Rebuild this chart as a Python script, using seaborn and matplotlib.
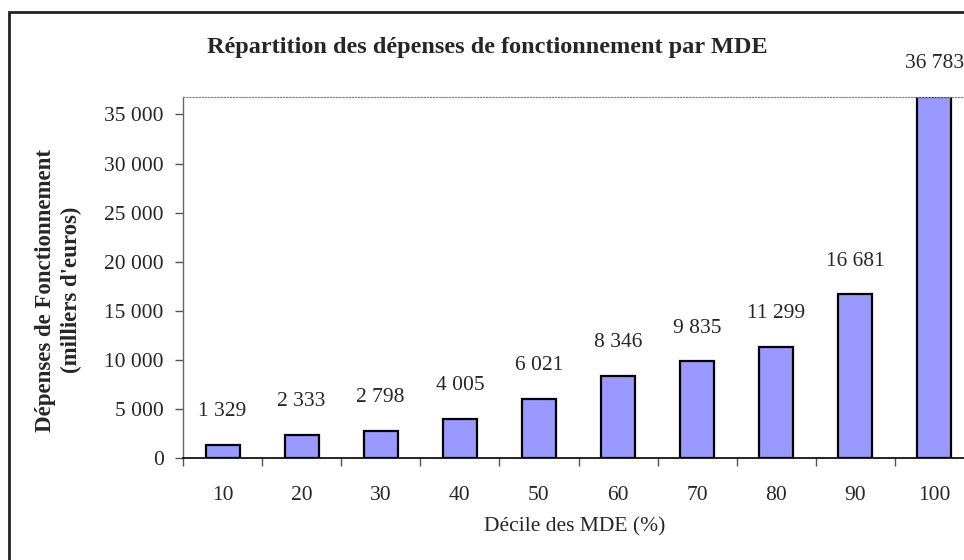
import matplotlib
matplotlib.use("Agg")
import matplotlib.pyplot as plt
from matplotlib.patches import Rectangle
from matplotlib.ticker import FixedLocator, FuncFormatter
import seaborn as sns
import pandas as pd

categories = ["10", "20", "30", "40", "50", "60", "70", "80", "90", "100"]
values = [1329, 2333, 2798, 4005, 6021, 8346, 9835, 11299, 16681, 36783]
value_labels = ["1 329", "2 333", "2 798", "4 005", "6 021", "8 346", "9 835", "11 299", "16 681", "36 783"]
yticks = [0, 5000, 10000, 15000, 20000, 25000, 30000, 35000]

title = "Répartition des dépenses de fonctionnement par MDE"
ylabel = "Dépenses de Fonctionnement\n(milliers d'euros)"
xlabel = "Décile des MDE (%)"

sns.set_style("white")
plt.rcParams["font.family"] = ["Liberation Serif", "DejaVu Serif"]

df = pd.DataFrame({"decile": categories, "depenses": values})

W, H = 964, 560
fig = plt.figure(figsize=(W / 100, H / 100), dpi=100)
ax = fig.add_axes([183 / W, 1 - 458 / H, (974 - 183) / W, (458 - 97) / H])

sns.barplot(data=df, x="decile", y="depenses", color="#9999FF", edgecolor="black",
            linewidth=1.6, width=0.43, saturation=1, ax=ax)

ax.set_xlim(-0.5, len(categories) - 0.5)
ax.set_ylim(0, max(values))

ax.yaxis.set_major_locator(FixedLocator(yticks))
ax.yaxis.set_major_formatter(FuncFormatter(lambda v, p: f"{int(v):,}".replace(",", " ")))
ax.tick_params(axis="y", which="major", direction="out", length=6, width=1, color="#555555",
               labelsize=15.5, pad=8, left=True)
ax.tick_params(axis="x", which="major", length=0, labelsize=15.5, pad=20)
ax.set_xticks(range(len(categories)), categories)
ax.xaxis.set_minor_locator(FixedLocator([i - 0.5 for i in range(len(categories) + 1)]))
ax.tick_params(axis="x", which="minor", direction="out", length=6, width=1, color="#555555", bottom=True)

ax.spines["right"].set_visible(False)
ax.spines["top"].set_visible(True)
ax.spines["top"].set_color("#888888")
ax.spines["top"].set_linestyle((0, (1, 1.5)))
ax.spines["top"].set_linewidth(0.9)
ax.spines["left"].set_color("#666666")
ax.spines["left"].set_linewidth(1.0)
ax.spines["bottom"].set_color("black")
ax.spines["bottom"].set_linewidth(1.2)

ax.set_xlabel("")
ax.set_ylabel("")

for i, (v, lab) in enumerate(zip(values, value_labels)):
    ax.annotate(lab, xy=(i, v), xytext=(0, 17), textcoords="offset points",
                ha="center", va="bottom", fontsize=15.5, annotation_clip=False)

fig.text(487 / W, 1 - 48 / H, title, ha="center", va="center", fontsize=17.5, fontweight="bold")
fig.text(59 / W, 1 - 290 / H, ylabel, ha="center", va="center", rotation=90,
         fontsize=16.5, fontweight="bold", linespacing=1.3)
fig.text(575 / W, 1 - 527 / H, xlabel, ha="center", va="center", fontsize=15.5)

fig.patches.append(Rectangle((8.5 / W, -0.1), 2, 1.1 - 12 / H, transform=fig.transFigure,
                             fill=False, edgecolor="#222222", linewidth=2))

fig.savefig("out.png", dpi=100)
